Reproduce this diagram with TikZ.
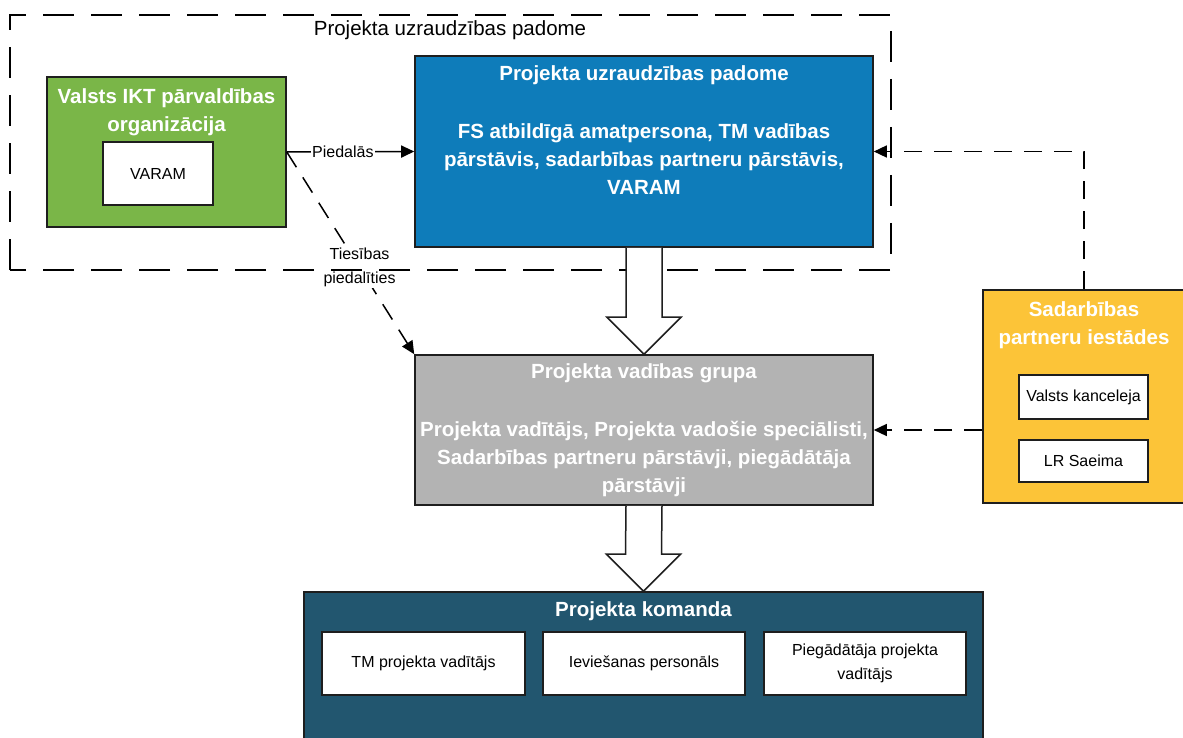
\documentclass[tikz,border=0pt]{standalone}
\usepackage{fontspec}
\setmainfont{Liberation Sans}
\usetikzlibrary{positioning, arrows.meta, calc}

\definecolor{iktgreen}{HTML}{7AB648}
\definecolor{boardblue}{HTML}{0E7CBA}
\definecolor{groupgray}{HTML}{B3B3B3}
\definecolor{teamteal}{HTML}{22566F}
\definecolor{partneryellow}{HTML}{FCC438}
\definecolor{edgegray}{HTML}{1E1E1E}

\begin{document}
\begin{tikzpicture}[
  x=1pt, y=-1pt,
  >={Triangle[length=13pt,width=12pt]},
  every node/.style={font=\fontsize{16}{24}\selectfont},
  box/.style={draw=edgegray, line width=1.6pt, inner sep=0pt},
  whitebox/.style={box, fill=white, align=center},
  title/.style={font=\fontsize{20.5}{28}\selectfont\bfseries, text=white, align=center, inner sep=0pt},
  dasharrow/.style={->, line width=1.5pt, dash pattern=on 18pt off 12pt},
  hollow/.style={draw=edgegray, fill=white, line width=1.5pt, line join=miter}
]
\useasboundingbox (0,0) rectangle (1183,738);

% Valsts IKT
\node[box, fill=iktgreen, minimum width=239pt, minimum height=150pt] (ikt) at (166.5,152) {};
\node[title, below=12pt of ikt.north] (iktlbl) {Valsts IKT pārvaldības\\organizācija};
\node[whitebox, minimum width=110pt, minimum height=63pt] (varam) at (158,173.5) {VARAM};

% Uzraudzibas padome
\node[box, fill=boardblue, minimum width=458pt, minimum height=191pt] (board) at (644,151.5) {};
\node[title, below=10pt of board.north] (boardtxt)
  {Projekta uzraudzības padome\\[30pt]FS atbildīgā amatpersona, TM vadības\\pārstāvis, sadarbības partneru pārstāvis,\\VARAM};

% Vadibas grupa
\node[box, fill=groupgray, minimum width=458pt, minimum height=150pt] (group) at (644,430) {};
\node[title, below=9pt of group.north] (grouptxt)
  {Projekta vadības grupa\\[30pt]Projekta vadītājs, Projekta vadošie speciālisti,\\Sadarbības partneru pārstāvji, piegādātāja\\pārstāvji};

% Komanda
\node[box, fill=teamteal, minimum width=679pt, minimum height=170pt] (team) at (643.5,677) {};
\node[title, below=10pt of team.north] (teamlbl) {Projekta komanda};
\node[whitebox, minimum width=203pt, minimum height=63pt] (tmlead) at (423.5,663.5) {TM projekta vadītājs};
\node[whitebox, minimum width=202pt, minimum height=63pt] (staff) at (644,663.5) {Ieviešanas personāls};
\node[whitebox, minimum width=202pt, minimum height=63pt] (vendor) at (865,663.5) {Piegādātāja projekta\\vadītājs};

% Sadarbibas partneri
\node[box, fill=partneryellow, minimum width=202pt, minimum height=213pt] (partners) at (1084,396.5) {};
\node[title, below=12pt of partners.north] (partnerlbl) {Sadarbības\\partneru iestādes};
\node[whitebox, minimum width=129pt, minimum height=44pt] (chancery) at (1083.5,397) {Valsts kanceleja};
\node[whitebox, minimum width=129pt, minimum height=42pt] (saeima) at (1083.5,461) {LR Saeima};

% Savienojumi
\draw[->, line width=1.5pt] (ikt.east) -- node[fill=white, inner sep=1pt, pos=0.44] (piedlbl) {Piedalās} (board.west);
\draw[dasharrow] (ikt.east) -- node[fill=white, inner sep=1pt, align=center, pos=0.571] (tieslbl) {Tiesības\\piedalīties} (group.north west);
\draw[dasharrow] (partners.north) |- (board.east);
\draw[dasharrow] (partners.west |- group.east) -- (group.east);

% Padomes robeza
\draw[line width=1.5pt, dash pattern=on 31pt off 17pt] (10,270) -- (10,15) -- (891,15) -- (891,270) -- cycle;
\node[font=\fontsize{20.5}{24}\selectfont] (boardlbl) at (450,30) {Projekta uzraudzības padome};

% Lielas bultas
\foreach \a/\b in {board/group, group/team} {
  \draw[hollow] ($(\a.south)+(-18,0)$) -- ($(\b.north)+(-18,-37)$) -- ($(\b.north)+(-37,-37)$)
    -- (\b.north) -- ($(\b.north)+(37,-37)$) -- ($(\b.north)+(18,-37)$) -- ($(\a.south)+(18,0)$);
}

\end{tikzpicture}
\end{document}
